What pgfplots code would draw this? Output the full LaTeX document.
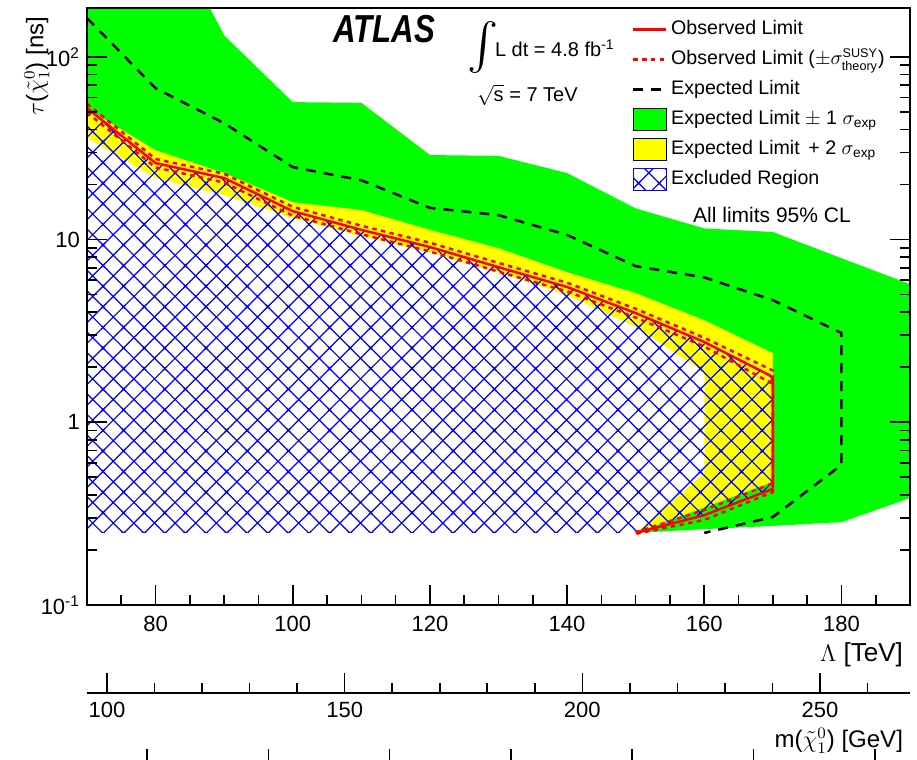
\documentclass[border=0pt]{standalone}
\usepackage{amsmath}
\usepackage{fontspec}
\setmainfont{Liberation Sans}
\usepackage{graphicx}
\usepackage{pgfplots}
\pgfplotsset{compat=1.18}
\usetikzlibrary{patterns.meta}
\definecolor{rgreen}{RGB}{0,255,0}
\definecolor{ryellow}{RGB}{255,255,0}
\definecolor{rred}{RGB}{255,0,0}
\definecolor{rblue}{RGB}{0,0,255}
\tikzdeclarepattern{
  name=rootx,
  type=uncolored,
  bounding box={(-1pt,-1pt) and (11.3pt,11.3pt)},
  tile size={(10.3pt,10.3pt)},
  code={
    \draw[line width=0.6pt] (-1pt,-1pt) -- (11.3pt,11.3pt) (-1pt,11.3pt) -- (11.3pt,-1pt);
  }
}
\pgfplotsset{
  lineleg/.style={legend image code/.code={\draw[##1] (0pt,0pt) -- (16.5pt,0pt);}},
  boxleg/.style={legend image code/.code={\draw[##1] (0pt,-5.5pt) rectangle (16.5pt,5.5pt);}},
}
\newcommand{\tinytxt}[1]{\text{\fontsize{6.3}{7}\selectfont #1}}
\begin{document}
\begin{tikzpicture}
\useasboundingbox (0pt,0pt) rectangle (458.5pt,380pt);
\clip (0pt,0pt) rectangle (458.5pt,380pt);
\begin{axis}[
  at={(43.5pt,77.5pt)}, anchor=south west,
  scale only axis, width=411.5pt, height=298.5pt,
  xmin=70, xmax=190, ymin=0.1, ymax=185, ymode=log,
  xtick={80,100,...,180}, minor xtick={70,75,...,190},
  ytick={0.1,1,10,100}, yticklabels={10\textsuperscript{-1},1,10,10\textsuperscript{2}},
  minor ytick={0.2,0.3,0.4,0.5,0.6,0.7,0.8,0.9,2,3,4,5,6,7,8,9,20,30,40,50,60,70,80,90},
  xtick pos=left, ytick pos=both,
  tick align=inside,
  major tick length=10pt, minor tick length=5pt,
  tick style={black, line width=0.8pt},
  axis line style={line width=1pt},
  ticklabel style={font=\fontsize{11}{13}\selectfont},
  xticklabel style={yshift=-2pt},
  /pgf/number format/assume math mode=true,
  xlabel={$\Lambda$ [TeV]},
  xlabel style={at={(rel axis cs:1,-0.0838)}, anchor=east, font=\fontsize{13}{15}\selectfont},
  ylabel={$\tau$($\tilde{\chi}^{0}_{1}$) [ns]},
  ylabel style={at={(rel axis cs:-0.061,0.997)}, anchor=east, font=\fontsize{12}{14}\selectfont},
  axis on top,
  legend cell align=left,
  legend style={at={(rel axis cs:0.662,0.99)}, anchor=north west, draw=none, fill=none,
    font=\fontsize{9.8}{12}\selectfont, row sep=0pt, inner sep=0pt,
    nodes={inner sep=1.75pt, text height=8.5pt, text depth=3pt}},
]
% legend images
\addlegendimage{rred, line width=1.25pt, lineleg}
\addlegendentry{Observed Limit}
\addlegendimage{rred, line width=1.25pt, dash pattern=on 2.2pt off 2.2pt, lineleg}
\addlegendentry{Observed Limit ($\pm\sigma^{\tinytxt{SUSY}}_{\tinytxt{theory}}$)}
\addlegendimage{black, line width=1.25pt, dash pattern=on 5pt off 4pt, lineleg}
\addlegendentry{Expected Limit}
\addlegendimage{fill=rgreen, draw=none, boxleg}
\addlegendentry{Expected Limit $\pm$ 1 $\sigma_{\text{exp}}$}
\addlegendimage{fill=ryellow, draw=none, boxleg}
\addlegendentry{Expected Limit\, + 2 $\sigma_{\text{exp}}$}
\addlegendimage{pattern=rootx, pattern color=rblue, draw=rblue, line width=0.8pt, boxleg}
\addlegendentry{Excluded Region}
% green +-1 sigma band
\addplot[fill=rgreen, draw=none, forget plot] coordinates {
 (70,3000) (80,678) (90,131) (100,56.5) (110,56) (120,29.0) (130,28.7) (140,23.1)
 (150,14.8) (160,11.5) (170,11.0) (180,7.9) (190,5.7)
 (190,0.385) (180,0.284) (170,0.271) (160,0.26) (150,0.248) (70,0.248)} -- cycle;
% yellow +2 sigma
\addplot[fill=ryellow, draw=none, forget plot] coordinates {
 (70,52) (80,30.8) (90,23.1) (100,16.0) (110,14.5) (120,11.3) (130,8.97) (140,6.63)
 (150,5.09) (160,3.62) (170,2.39) (170,0.471) (150,0.248) (70,0.248)} -- cycle;
% white inner region
\addplot[fill=white, draw=none, forget plot] coordinates {
 (70,35.9) (80,21.7) (90,17.5) (100,13.1) (110,10.4) (120,8.5) (130,6.6) (140,4.97)
 (150,3.32) (160,1.88) (160,0.527) (150,0.248) (70,0.248)} -- cycle;
% excluded region hatch
\addplot[pattern=rootx, pattern color=rblue, draw=none, forget plot] coordinates {
 (70,52.4) (80,26.2) (90,21.7) (100,14.3) (110,11.3) (120,9.1) (130,7.06) (140,5.5)
 (150,3.96) (160,2.75) (170,1.77) (170,0.432) (160,0.31) (150,0.248) (70,0.248)} -- cycle;
% expected limit
\addplot[black, line width=1.25pt, dash pattern=on 5pt off 4pt, forget plot] coordinates {
 (70,163) (80,67.3) (90,43.3) (100,24.9) (110,21.1) (120,14.9) (130,13.6) (140,10.6)
 (150,7.15) (160,6.2) (170,4.66) (180,3.08) (180,0.583) (170,0.303) (160,0.248)};
% observed +- theory
\addplot[rred, line width=1.25pt, dash pattern=on 2.2pt off 2.2pt, forget plot] coordinates {
 (70,55.3) (80,27.6) (90,22.9) (100,15.1) (110,11.9) (120,9.6) (130,7.45) (140,5.8)
 (150,4.18) (160,2.9) (170,1.92) (170,0.415) (160,0.292) (150,0.245)};
\addplot[rred, line width=1.25pt, dash pattern=on 2.2pt off 2.2pt, forget plot] coordinates {
 (70,49.5) (80,24.8) (90,20.5) (100,13.5) (110,10.7) (120,8.6) (130,6.67) (140,5.2)
 (150,3.74) (160,2.6) (170,1.62) (170,0.464) (160,0.331) (150,0.25)};
% observed
\addplot[rred, line width=1.25pt, forget plot] coordinates {
 (70,52.4) (80,26.2) (90,21.7) (100,14.3) (110,11.3) (120,9.1) (130,7.06) (140,5.5)
 (150,3.96) (160,2.75) (170,1.77) (170,0.432) (160,0.31) (150,0.248)};
\end{axis}
% second axis: neutralino mass
\begin{axis}[
  at={(43.5pt,33.5pt)}, anchor=south west,
  scale only axis, width=411.5pt, height=20pt,
  xmin=95.79, xmax=268.94, ymin=0, ymax=1,
  axis x line*=bottom, axis y line=none,
  x axis line style={-, line width=0.8pt},
  xtick={100,150,200,250}, minor xtick={100,110,...,260},
  tick align=inside, xtick pos=left,
  major tick length=10pt, minor tick length=5pt,
  tick style={black, line width=0.8pt},
  ticklabel style={font=\fontsize{11}{13}\selectfont},
  xticklabel style={yshift=-1pt},
  /pgf/number format/assume math mode=true,
  xlabel={m($\tilde{\chi}^{0}_{1}$) [GeV]},
  xlabel style={at={(rel axis cs:1,0)}, anchor=east, yshift=-24pt, font=\fontsize{12}{14}\selectfont},
]
\addplot[draw=none] coordinates {(100,0.5)};
\end{axis}
% third axis (cut off)
\begin{axis}[
  at={(43.5pt,-5pt)}, anchor=south west,
  scale only axis, width=411.5pt, height=20pt,
  xmin=-0.495, xmax=6.29, ymin=0, ymax=1,
  axis x line*=bottom, axis y line=none,
  x axis line style={-, line width=0.8pt},
  xtick={0,1,...,6}, minor x tick num=4, xticklabels={},
  tick align=inside, xtick pos=left,
  major tick length=10.5pt, minor tick length=5pt,
  tick style={black, line width=0.8pt},
]
\addplot[draw=none] coordinates {(1,0.5)};
\end{axis}
% annotations
\node at (192pt,365.5pt) {\scalebox{0.8}[1]{\fontsize{19.5}{20}\selectfont\bfseries\itshape ATLAS}};
\node[inner sep=0pt] at (241.5pt,356pt) {\resizebox*{!}{26pt}{$\int$}};
\node[anchor=west, font=\fontsize{10}{12}\selectfont] at (244pt,356pt) {L dt = 4.8 fb\textsuperscript{-1}};
\node[anchor=west, font=\fontsize{10}{12}\selectfont] at (235pt,332.5pt) {$\sqrt{\text{s}}$ = 7 TeV};
\node[font=\fontsize{10.5}{12}\selectfont] at (386pt,272.5pt) {All limits 95\% CL};
\end{tikzpicture}
\end{document}
